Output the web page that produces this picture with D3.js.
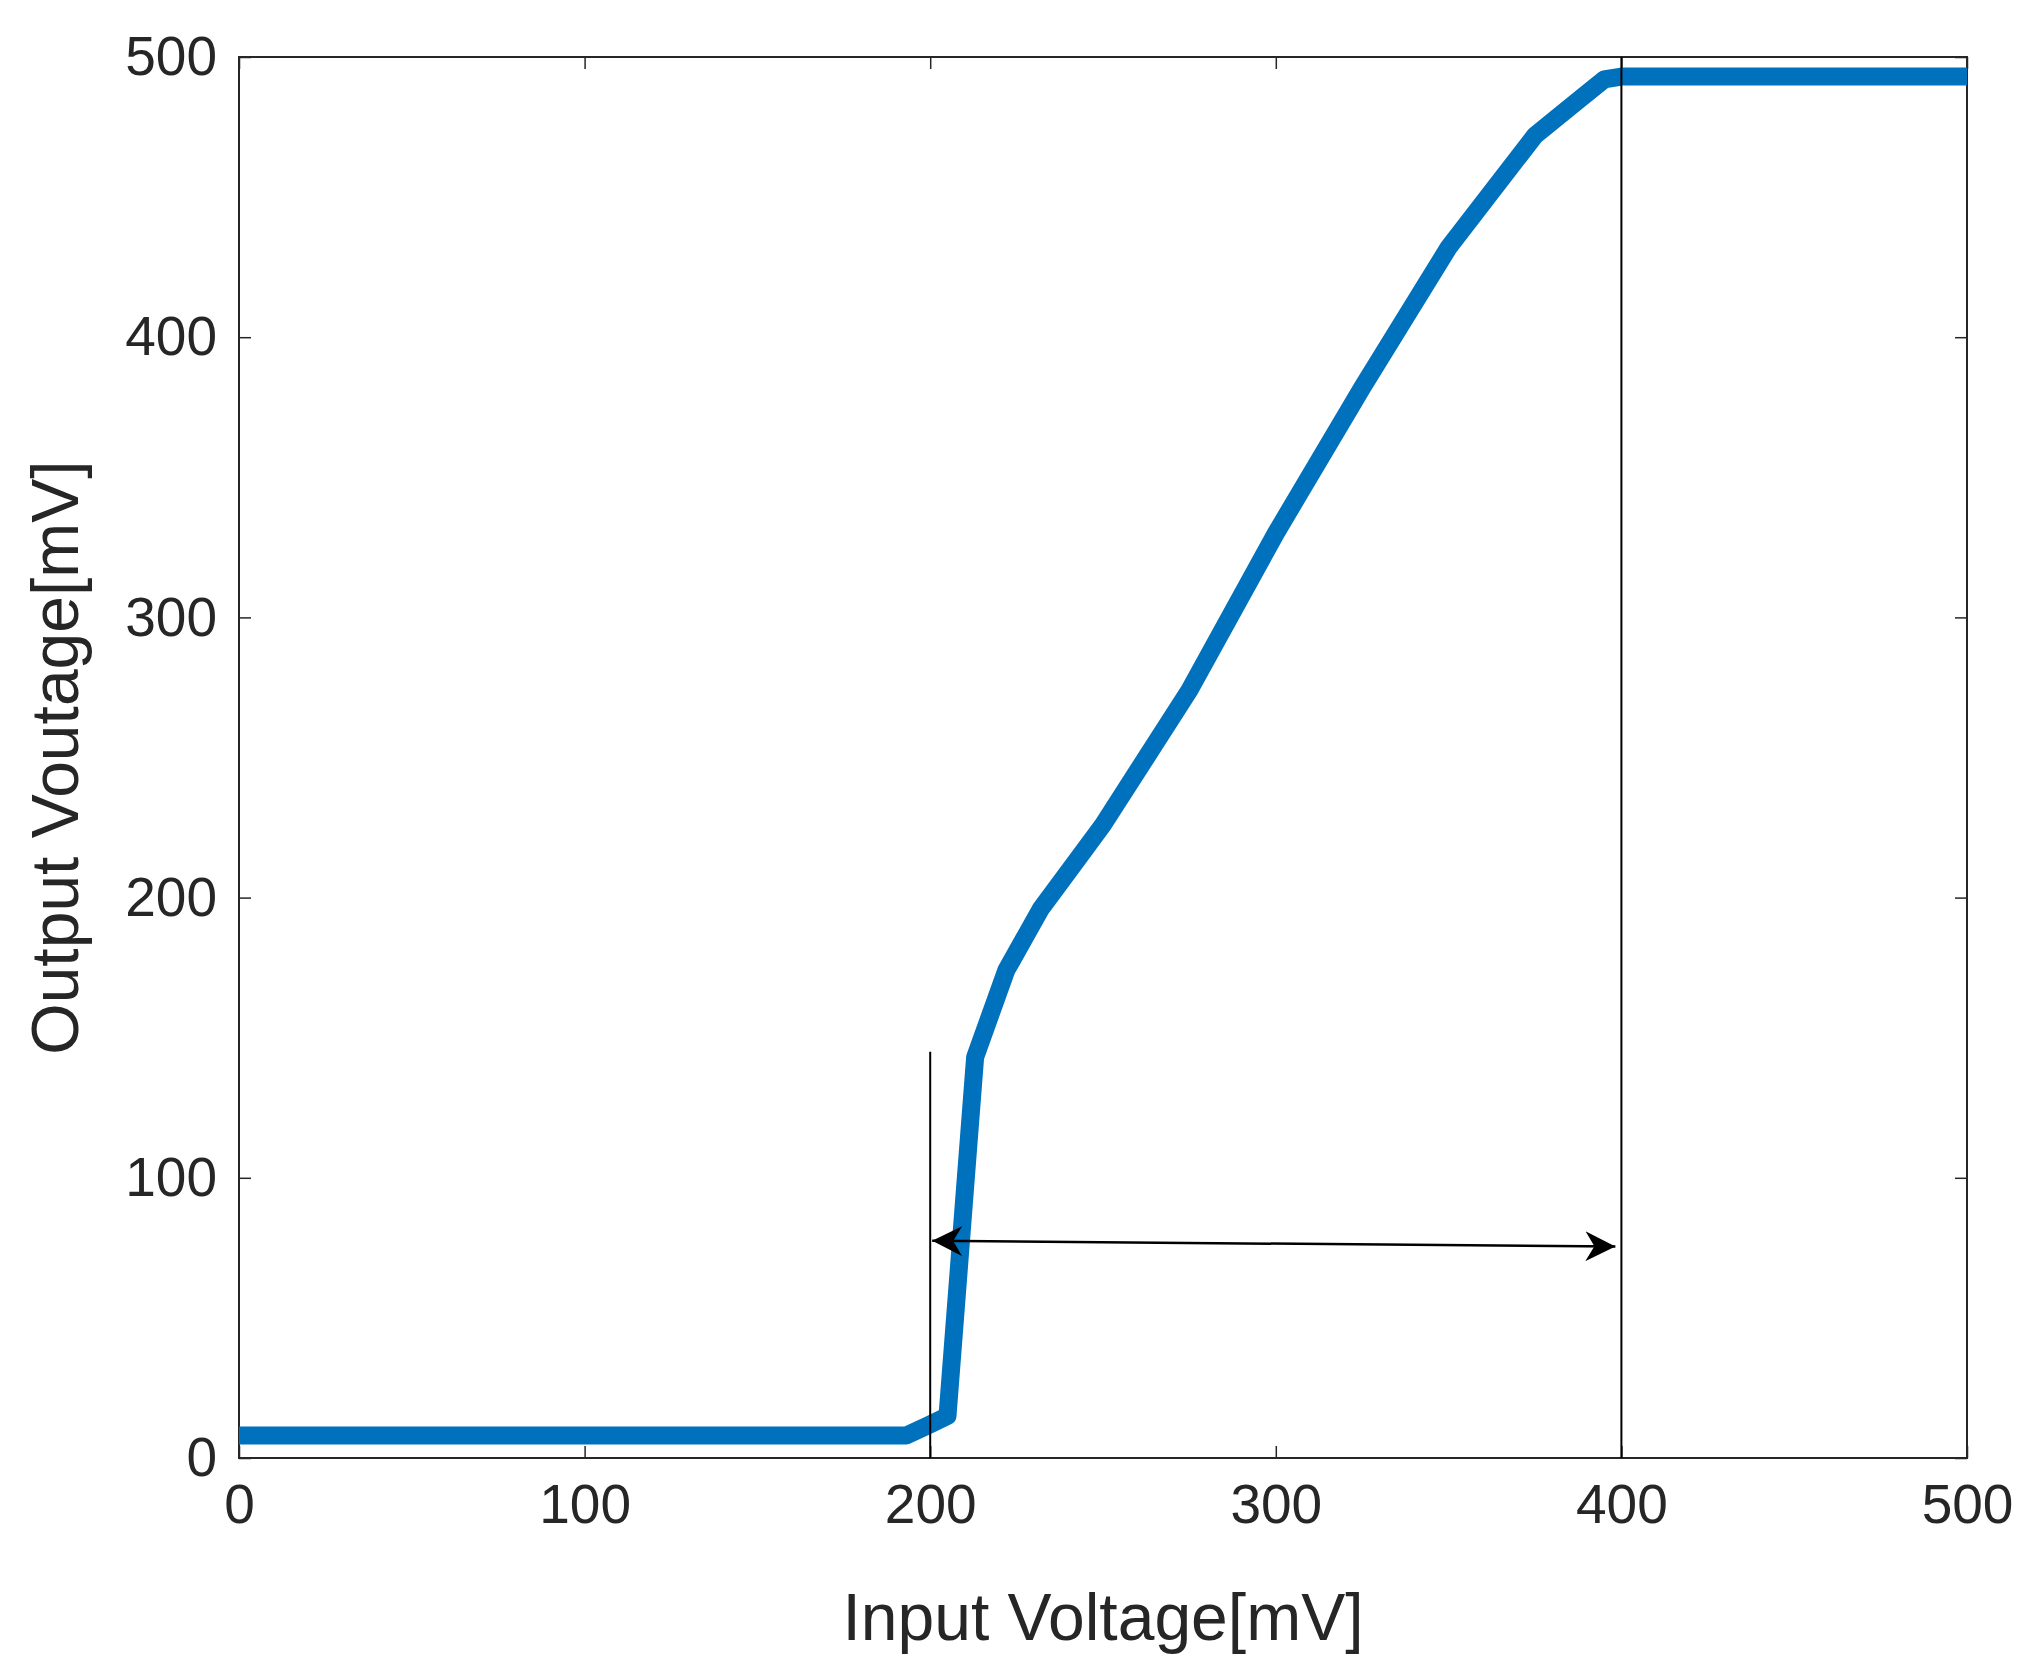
<!DOCTYPE html>
<html><head><meta charset="utf-8">
<script src="https://cdn.jsdelivr.net/npm/d3@7"></script>
<style>body{margin:0;background:#fff}text{font-family:"Liberation Sans",Arial,sans-serif}</style>
</head><body>
<svg id="chart" width="2035" height="1672"></svg>
<script>
// transfer curve
const inputMv  = [0, 193, 200, 205, 213, 222, 232, 241, 250, 275, 300, 325, 350, 375, 388, 395, 400, 500];
const outputMv = [8, 8, 12, 15, 143, 174, 196, 211, 226, 274, 330, 382, 432, 472, 485, 492, 493, 493];
const xTicks = [0, 100, 200, 300, 400, 500];
const yTicks = [0, 100, 200, 300, 400, 500];
const markerX = [200, 400];
const markerTop = [145, 500];
const arrowY = [77.5, 75.5];

const svg = d3.select('#chart');
const m = {left: 239, right: 2035 - 1967, top: 57, bottom: 1672 - 1458};
const w = 2035 - m.left - m.right, h = 1672 - m.top - m.bottom;
const g = svg.append('g').attr('transform', `translate(${m.left},${m.top})`);

let x = d3.scaleLinear().domain([0, 500]).range([0, w]);
let y = d3.scaleLinear().domain([0, 500]).range([h, 0]);

// ticks inside, matlab style
let ax = (sel, axis) => {
    sel.call(axis);
    sel.select('.domain').remove();
    sel.selectAll('line').attr('stroke', '#262626').attr('stroke-width', 1.5);
    sel.selectAll('text').attr('font-size', 55).attr('fill', '#262626');
};
g.append('g').attr('transform', `translate(0,${h})`)
    .call(s => ax(s, d3.axisBottom(x).tickValues(xTicks).tickSize(-12).tickPadding(26)));
g.append('g').attr('transform', `translate(0,0)`)
    .call(s => ax(s, d3.axisTop(x).tickValues(xTicks).tickSize(-12).tickFormat('')));
g.append('g')
    .call(s => ax(s, d3.axisLeft(y).tickValues(yTicks).tickSize(-12).tickPadding(22)));
g.append('g').attr('transform', `translate(${w},0)`)
    .call(s => ax(s, d3.axisRight(y).tickValues(yTicks).tickSize(-12).tickFormat('')));
g.append('rect').attr('width', w).attr('height', h)
    .attr('fill', 'none').attr('stroke', '#262626').attr('stroke-width', 2);

g.append('path').datum(d3.zip(inputMv, outputMv))
    .attr('fill', 'none').attr('stroke', '#0072BD').attr('stroke-width', 18)
    .attr('stroke-linejoin', 'round')
    .attr('d', d3.line().x(d => x(d[0])).y(d => y(d[1])));

// markers
markerX.forEach((v, i) => {
    g.append('line').attr('x1', x(v)).attr('x2', x(v))
        .attr('y1', y(0)).attr('y2', y(markerTop[i]))
        .attr('stroke', '#000').attr('stroke-width', 2);
});
svg.append('defs').append('marker').attr('id', 'ah')
    .attr('viewBox', '0 0 10 10').attr('refX', 10).attr('refY', 5)
    .attr('markerWidth', 14).attr('markerHeight', 14).attr('orient', 'auto-start-reverse')
    .attr('markerUnits', 'userSpaceOnUse')
    .append('path').attr('d', 'M0,0 L10,5 L0,10 L3,5 Z').attr('fill', '#000');
// bigger marker
d3.select('#ah').attr('markerWidth', 30).attr('markerHeight', 30);
g.append('line')
    .attr('x1', x(markerX[0]) + 2).attr('y1', y(arrowY[0]))
    .attr('x2', x(markerX[1]) - 6).attr('y2', y(arrowY[1]))
    .attr('stroke', '#000').attr('stroke-width', 2.5)
    .attr('marker-start', 'url(#ah)').attr('marker-end', 'url(#ah)');

svg.append('text').attr('x', m.left + w / 2).attr('y', 1640)
    .attr('text-anchor', 'middle').attr('font-size', 66).attr('fill', '#262626')
    .text('Input Voltage[mV]');
svg.append('text').attr('transform', `translate(78,${m.top + h / 2}) rotate(-90)`)
    .attr('text-anchor', 'middle').attr('font-size', 66).attr('fill', '#262626')
    .text('Output Voutage[mV]');
</script>
</body></html>
